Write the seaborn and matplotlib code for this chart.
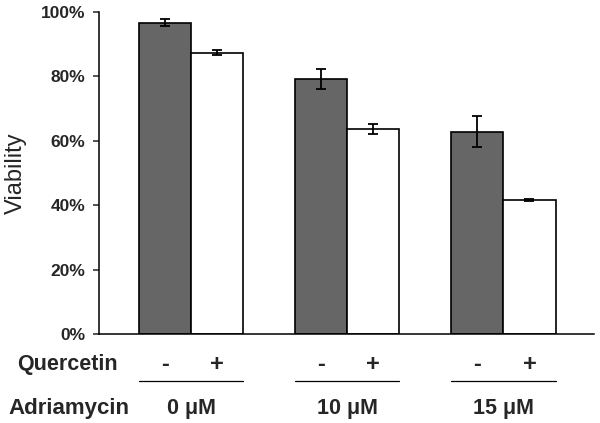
import numpy as np
import pandas as pd
import matplotlib
matplotlib.use('Agg')
import matplotlib.pyplot as plt
import matplotlib.transforms as mtransforms
from matplotlib.ticker import PercentFormatter
import seaborn as sns

# Data
adriamycin = ['0 μM', '10 μM', '15 μM']
quercetin = ['-', '+']
viability_minus = [0.967, 0.792, 0.628]
viability_plus = [0.873, 0.636, 0.416]
err_minus = [0.010, 0.031, 0.048]
err_plus = [0.008, 0.016, 0.002]

df = pd.DataFrame({
    'adriamycin': adriamycin * 2,
    'quercetin': ['-'] * 3 + ['+'] * 3,
    'viability': viability_minus + viability_plus,
    'err': err_minus + err_plus,
})

sns.set_style('white')
plt.rcParams['font.family'] = ['Liberation Sans', 'DejaVu Sans']

fig, ax = plt.subplots(figsize=(6, 4.23), dpi=100)
fig.subplots_adjust(left=0.165, right=0.99, top=1 - 12 / 423, bottom=1 - 334 / 423)

sns.barplot(data=df, x='adriamycin', y='viability', hue='quercetin',
            order=adriamycin, hue_order=quercetin,
            palette=['#666666', 'white'], edgecolor='black', linewidth=1.2,
            width=0.667, errorbar=None, legend=False, ax=ax)

# Error bars on top of each bar
for q, cont in zip(quercetin, ax.containers):
    sub = df[df['quercetin'] == q].set_index('adriamycin').loc[adriamycin]
    xs = [b.get_x() + b.get_width() / 2 for b in cont]
    ax.errorbar(xs, sub['viability'], yerr=sub['err'], fmt='none',
                ecolor='black', elinewidth=1.3, capsize=3.5, capthick=1.3, zorder=5)

ax.set_ylim(0, 1)
ax.set_xlim(-0.59, 2.58)
ax.set_yticks(np.arange(0, 1.01, 0.2))
ax.yaxis.set_major_formatter(PercentFormatter(1.0, decimals=0))
ax.tick_params(axis='y', direction='out', length=4, width=1.1, left=True,
               labelsize=12.5, pad=6)
for lab in ax.get_yticklabels():
    lab.set_fontweight('bold')
ax.tick_params(axis='x', bottom=False, labelbottom=False)
ax.set_xlabel('')
ax.set_ylabel('Viability', fontsize=17)
ax.yaxis.set_label_coords(-0.145, 0.5)

sns.despine(ax=ax)
for side in ['left', 'bottom']:
    ax.spines[side].set_color('black')
    ax.spines[side].set_linewidth(1.1)

# Treatment labels under the axis
trans = mtransforms.blended_transform_factory(ax.transData, fig.transFigure)
y_q = 1 - 364 / 423
y_line = 1 - 381 / 423
y_a = 1 - 408 / 423
fig.text(17 / 600, y_q, 'Quercetin', fontsize=15.5, fontweight='bold',
         ha='left', va='center')
fig.text(8 / 600, y_a, 'Adriamycin', fontsize=16, fontweight='bold',
         ha='left', va='center')
half = 0.667 / 2
for i, dose in enumerate(adriamycin):
    for j, q in enumerate(quercetin):
        xc = i - half / 2 + j * half
        ax.text(xc, y_q, q, transform=trans, fontsize=17, fontweight='bold',
                ha='center', va='center')
    ax.plot([i - half, i + half], [y_line, y_line], transform=trans,
            color='black', linewidth=0.9, clip_on=False)
    ax.text(i, y_a, dose, transform=trans, fontsize=15.5, fontweight='bold',
            ha='center', va='center')

fig.savefig('out.png', dpi=100)
